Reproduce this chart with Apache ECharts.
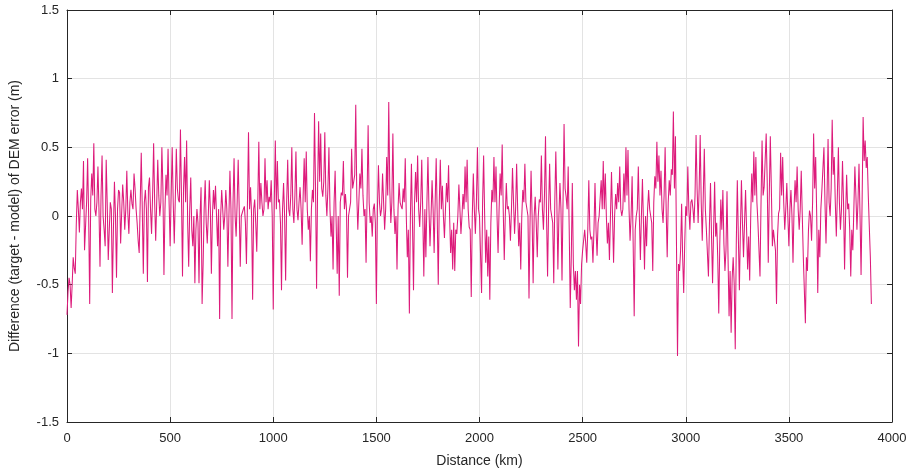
<!DOCTYPE html>
<html>
<head>
<meta charset="utf-8">
<title>DEM error difference along track</title>
<script src="https://cdn.jsdelivr.net/npm/echarts@6/dist/echarts.min.js"></script>
<style>
  html, body { margin: 0; padding: 0; background: #ffffff; }
  #chart { width: 916px; height: 475px; }
</style>
</head>
<body>
<div id="chart"></div>
<script>
// Along-track sampling of the profile (km)
const distanceStepKm = 10;

// Difference (target - model) of DEM error, metres, at 0, 10, 20 ... 3900 km
const differenceM = [
  // 0 - 320 km
  -0.72, -0.45, -0.67, -0.3, -0.42, 0.19, -0.12, 0.2, 0.4, -0.25, 0.42, -0.64, 0.31, 0.53, 0.0, 0.36, -0.37,
  0.44, -0.1, 0.41, -0.32, 0.1, -0.56, 0.25, -0.45, 0.19, -0.2, 0.23, -0.1, 0.33, -0.13, 0.19, 0.05,
  // 330 - 660 km
  0.2, -0.05, -0.27, 0.46, -0.42, 0.19, -0.48, 0.28, -0.13, 0.53, -0.18, 0.41, 0.0, 0.5, -0.43, 0.3, 0.49,
  -0.22, 0.5, -0.2, 0.49, 0.12, 0.63, -0.44, 0.43, 0.55, -0.37, 0.28, -0.22, -0.49, 0.05, -0.49, 0.21, -0.35,
  // 670 - 1000 km
  0.26, -0.2, 0.26, -0.42, 0.19, 0.22, -0.22, -0.75, 0.19, -0.1, 0.19, -0.37, 0.33, -0.75, 0.42, -0.15, 0.41,
  -0.37, 0.0, 0.07, -0.35, 0.61, 0.21, -0.61, 0.12, -0.26, 0.54, 0.24, 0.0, 0.42, 0.26, 0.14, 0.26, -0.68,
  // 1010 - 1340 km
  0.55, 0.4, 0.12, -0.54, 0.24, -0.47, 0.41, 0.0, 0.5, -0.05, 0.47, -0.03, 0.21, -0.21, 0.42, 0.47, -0.1,
  -0.33, 0.19, 0.75, -0.53, 0.69, 0.6, 0.14, 0.61, 0.0, 0.5, -0.15, -0.39, 0.33, -0.42, -0.58, 0.17, 0.4,
  // 1350 - 1680 km
  0.16, -0.45, 0.05, 0.49, 0.19, 0.81, -0.1, 0.31, 0.49, 0.0, -0.34, 0.66, -0.05, -0.15, 0.09, -0.64, 0.37,
  0.0, 0.31, -0.1, 0.43, 0.83, -0.05, 0.6, -0.13, -0.39, 0.24, 0.07, 0.2, 0.42, -0.3, -0.71, 0.38, -0.54,
  // 1690 - 2010 km
  0.32, 0.44, -0.08, 0.41, -0.44, -0.3, 0.43, -0.22, 0.26, -0.27, 0.42, -0.5, 0.41, 0.22, -0.16, 0.24, 0.37,
  -0.27, -0.39, -0.4, -0.13, 0.23, -0.13, 0.16, 0.36, 0.41, -0.08, -0.59, 0.31, -0.13, 0.5, 0.0, -0.56,
  // 2020 - 2360 km
  0.44, -0.34, -0.44, -0.61, 0.19, 0.43, 0.36, -0.27, 0.31, 0.52, -0.32, 0.24, 0.07, -0.18, 0.35, -0.13, 0.38,
  -0.22, -0.39, 0.19, 0.38, 0.1, -0.6, 0.33, -0.49, 0.14, -0.3, 0.12, 0.44, -0.1, 0.58, -0.44, 0.38, 0.0, -0.49,
  // 2370 - 2700 km
  0.47, -0.39, 0.24, -0.47, 0.67, 0.14, 0.36, -0.67, 0.24, -0.54, -0.61, -0.95, -0.64, -0.25, -0.1, -0.34, 0.26,
  -0.17, -0.34, 0.24, -0.29, 0.0, 0.26, 0.4, 0.31, -0.2, -0.32, 0.32, -0.34, 0.16, 0.24, 0.36, 0.0, 0.31,
  // 2710 - 3040 km
  0.5, 0.48, -0.18, 0.29, -0.73, 0.0, 0.36, -0.32, 0.27, -0.39, -0.22, 0.19, 0.0, -0.4, 0.29, 0.54, 0.44,
  0.33, -0.05, 0.5, -0.3, 0.26, 0.34, 0.76, 0.58, -1.02, -0.4, 0.09, -0.56, 0.07, 0.36, -0.1, 0.12, -0.05,
  // 3050 - 3380 km
  0.59, -0.05, 0.59, -0.18, 0.49, -0.1, -0.44, 0.24, -0.49, 0.25, -0.05, -0.71, 0.12, 0.19, -0.4, 0.18, -0.73,
  -0.85, -0.3, -0.97, 0.26, -0.54, 0.26, -0.3, 0.19, -0.39, -0.47, 0.31, 0.47, 0.43, -0.05, -0.44, 0.55, 0.21,
  // 3390 - 3720 km
  0.6, -0.34, 0.58, -0.22, -0.1, -0.64, 0.02, 0.46, 0.43, -0.1, 0.24, -0.22, 0.19, -0.34, 0.26, 0.36, -0.1,
  0.33, -0.3, -0.78, -0.4, 0.04, -0.18, 0.6, 0.43, -0.56, -0.3, 0.19, 0.5, -0.2, 0.56, 0.0, 0.7, 0.43,
  // 3730 - 3900 km
  -0.15, 0.5, -0.1, 0.4, -0.39, 0.3, 0.09, -0.44, -0.25, 0.36, -0.1, 0.38, -0.43, 0.72, 0.55, 0.43, -0.08, -0.64
];

// Values half-way between the samples above, at 5, 15, 25 ... 3895 km
const differenceMidM = [
  // 5 - 325 km
  -0.55, -0.5, -0.5, -0.38, -0.06, 0.05, 0.1, 0.05, -0.25, 0.1, 0.0, 0.12, 0.15, 0.05, 0.1, 0.05, 0.15,
  0.0, -0.22, 0.09, -0.1, 0.05, -0.1, 0.0, 0.05, 0.17, 0.02, 0.1, 0.05, 0.02, 0.1, 0.09, 0.31,
  // 335 - 665 km
  0.05, -0.18, 0.1, 0.05, 0.1, 0.05, 0.21, 0.05, 0.15, 0.1, 0.1, 0.15, 0.1, 0.2, 0.05, 0.15, 0.1,
  0.15, 0.1, 0.12, 0.2, 0.1, 0.15, 0.2, 0.1, -0.05, 0.05, -0.1, 0.0, -0.1, -0.05, 0.0, -0.64, 0.05,
  // 675 - 1005 km
  -0.05, 0.0, 0.05, 0.0, 0.05, 0.0, 0.05, 0.0, 0.05, 0.0, 0.05, 0.0, 0.05, 0.1, 0.0, 0.1, 0.05,
  0.0, 0.05, -0.05, 0.1, 0.05, 0.0, 0.05, -0.05, 0.1, 0.05, 0.1, 0.05, 0.1, 0.05, 0.1, 0.0, 0.1,
  // 1015 - 1345 km
  0.05, 0.1, -0.05, 0.05, 0.0, 0.1, 0.05, 0.15, 0.05, 0.15, 0.05, 0.1, 0.05, 0.15, 0.1, 0.05, 0.0,
  0.05, 0.1, 0.2, 0.2, 0.25, 0.2, 0.25, 0.15, 0.2, 0.05, 0.0, 0.1, -0.05, 0.0, 0.1, 0.15, 0.05,
  // 1355 - 1685 km
  0.05, 0.0, 0.1, 0.2, 0.3, 0.15, 0.1, 0.2, 0.15, 0.05, 0.15, 0.1, 0.0, 0.05, -0.05, 0.05, 0.1,
  0.05, 0.1, 0.05, 0.15, 0.2, 0.1, 0.05, 0.0, 0.05, 0.1, 0.05, 0.1, 0.0, -0.1, 0.0, -0.05, 0.1,
  // 1695 - 2015 km
  0.1, 0.05, 0.1, 0.0, 0.05, 0.1, 0.05, 0.0, 0.05, 0.1, 0.0, 0.1, 0.05, 0.0, 0.05, 0.1, 0.0,
  -0.1, -0.05, -0.1, 0.0, 0.05, 0.0, 0.05, 0.1, 0.05, -0.1, 0.0, 0.05, 0.1, 0.05, 0.0, 0.1,
  // 2025 - 2365 km
  0.0, -0.1, -0.15, -0.05, 0.1, 0.1, 0.0, 0.05, 0.15, 0.05, 0.0, 0.05, 0.0, 0.05, 0.1, 0.05, 0.05,
  -0.05, 0.0, 0.1, 0.1, 0.0, -0.05, 0.0, 0.0, -0.05, 0.0, 0.1, 0.05, 0.15, 0.0, 0.05, 0.05, -0.05, 0.1,
  // 2375 - 2705 km
  0.1, 0.0, 0.05, 0.1, 0.2, 0.05, -0.1, -0.3, -0.35, -0.4, -0.4, -0.5, -0.35, -0.25, -0.2, -0.1, -0.1,
  -0.15, -0.1, -0.1, -0.05, 0.0, 0.05, 0.05, 0.0, -0.05, 0.0, 0.0, 0.0, 0.05, 0.1, 0.05, 0.05, 0.1,
  // 2715 - 3045 km
  0.15, 0.05, 0.0, -0.2, -0.1, 0.05, 0.0, 0.0, -0.05, 0.0, 0.05, 0.05, -0.05, 0.1, 0.2, 0.25, 0.15,
  0.05, 0.15, 0.05, 0.1, 0.15, 0.3, 0.2, -0.2, -0.35, -0.25, -0.3, -0.2, 0.0, 0.05, 0.1, 0.05, 0.15,
  // 3055 - 3385 km
  0.2, 0.2, 0.1, 0.15, 0.05, -0.1, -0.05, -0.15, -0.1, -0.15, -0.3, -0.2, -0.1, -0.2, -0.25, -0.3, -0.4,
  -0.45, -0.5, -0.2, -0.15, -0.1, -0.05, -0.05, -0.1, -0.15, 0.0, 0.1, 0.15, 0.1, -0.05, 0.1, 0.15, 0.2,
  // 3395 - 3725 km
  0.25, 0.15, 0.2, -0.1, -0.25, -0.15, 0.05, 0.15, 0.1, 0.05, 0.0, 0.05, 0.0, 0.05, 0.1, 0.05, 0.05,
  0.0, -0.3, -0.3, -0.1, 0.0, 0.1, 0.2, 0.0, -0.1, 0.05, 0.2, 0.1, 0.15, 0.1, 0.2, 0.3, 0.1,
  // 3735 - 3895 km
  0.15, 0.1, 0.05, 0.1, 0.0, 0.05, -0.1, -0.1, 0.05, 0.15, 0.1, 0.0, 0.1, 0.4, 0.35, 0.15, -0.3
];

// Axis ranges and tick labels
const xTicks = [0, 500, 1000, 1500, 2000, 2500, 3000, 3500, 4000];
const yTicks = [-1.5, -1, -0.5, 0, 0.5, 1, 1.5];

// Interleave the two sample sets into one along-track profile
const profile = [];
differenceM.forEach((v, i) => {
  profile.push([i * distanceStepKm, v]);
  if (i < differenceMidM.length) {
    profile.push([i * distanceStepKm + distanceStepKm / 2, differenceMidM[i]]);
  }
});

const axisColor = '#262626';
const fontFamily = '"Liberation Sans", Arial, Helvetica, sans-serif';

const chart = echarts.init(document.getElementById('chart'), null, { renderer: 'canvas' });

chart.setOption({
  animation: false,
  backgroundColor: '#ffffff',
  grid: { left: 66, right: 24, top: 10, bottom: 53, containLabel: false },
  xAxis: [
    {
      type: 'value',
      min: xTicks[0],
      max: xTicks[xTicks.length - 1],
      interval: 500,
      name: 'Distance (km)',
      nameLocation: 'middle',
      nameGap: 32,
      nameTextStyle: { color: axisColor, fontSize: 14, fontFamily: fontFamily },
      axisLine: { show: true, onZero: false, lineStyle: { color: axisColor, width: 1 } },
      axisTick: { show: true, inside: true, length: 5, lineStyle: { color: axisColor } },
      axisLabel: { color: axisColor, fontSize: 13, fontFamily: fontFamily, margin: 10,
                   formatter: (v) => String(v) },
      splitLine: { show: true, lineStyle: { color: '#e3e3e3', width: 1 } }
    },
    {
      type: 'value',
      position: 'top',
      min: xTicks[0],
      max: xTicks[xTicks.length - 1],
      interval: 500,
      axisLine: { show: true, onZero: false, lineStyle: { color: axisColor, width: 1 } },
      axisTick: { show: true, inside: true, length: 5, lineStyle: { color: axisColor } },
      axisLabel: { show: false },
      splitLine: { show: false }
    }
  ],
  yAxis: [
    {
      type: 'value',
      min: yTicks[0],
      max: yTicks[yTicks.length - 1],
      interval: 0.5,
      name: 'Difference (target - model) of DEM error (m)',
      nameLocation: 'middle',
      nameGap: 45,
      nameRotate: 90,
      nameTextStyle: { color: axisColor, fontSize: 14, fontFamily: fontFamily },
      axisLine: { show: true, onZero: false, lineStyle: { color: axisColor, width: 1 } },
      axisTick: { show: true, inside: true, length: 5, lineStyle: { color: axisColor } },
      axisLabel: { color: axisColor, fontSize: 13, fontFamily: fontFamily, margin: 8,
                   formatter: (v) => String(v) },
      splitLine: { show: true, lineStyle: { color: '#e3e3e3', width: 1 } }
    },
    {
      type: 'value',
      position: 'right',
      min: yTicks[0],
      max: yTicks[yTicks.length - 1],
      interval: 0.5,
      axisLine: { show: true, onZero: false, lineStyle: { color: axisColor, width: 1 } },
      axisTick: { show: true, inside: true, length: 5, lineStyle: { color: axisColor } },
      axisLabel: { show: false },
      splitLine: { show: false }
    }
  ],
  series: [
    {
      type: 'line',
      xAxisIndex: 0,
      yAxisIndex: 0,
      data: profile,
      showSymbol: false,
      symbol: 'none',
      sampling: null,
      lineStyle: { color: '#dd1b7b', width: 1.05 },
      emphasis: { disabled: true }
    }
  ]
});
</script>
</body>
</html>
